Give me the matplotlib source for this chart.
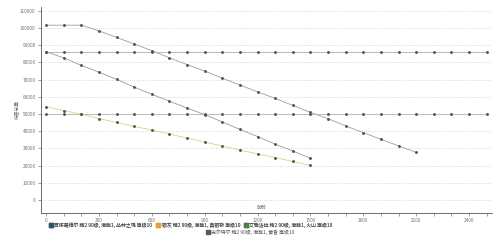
"""Damage vs. enemy defence, recreated with matplotlib"""
import matplotlib
matplotlib.use('Agg')
import matplotlib.pyplot as plt
from matplotlib.lines import Line2D

plt.rcParams['font.family'] = ['Noto Sans CJK SC', 'DejaVu Sans']

# enemy defence (x axis)
defence = list(range(0, 2600, 100))

# arts damage does not depend on defence
surtr = [86000] * 26
eyja = [50000] * 26

# physical damage series
gavial = [86300, 82700, 78300, 74400, 70200, 65700, 61500, 57500, 53500,
          49700, 45400, 41100, 36900, 32500, 28500, 24300]
silverash = [54200, 52000, 49900, 47400, 45100, 42800, 40700, 38400, 36000,
             33700, 31400, 29100, 26800, 24700, 22400, 20100]
unknown = [101700, 101700, 101700, 98400, 94600, 90800, 86900, 82700, 78800,
           75000, 70900, 66900, 62900, 59100, 55000, 51000, 47300, 43100,
           39200, 35300, 31500, 27700]

labels = [
    '百炼嘉维尔 精2 90级, 潜能1, 丛林之魂 等级10',
    '银灰 精2 90级, 潜能1, 真银斩 等级10',
    '艾雅法拉 精2 90级, 潜能1, 火山 等级10',
    '史尔特尔 精2 90级, 潜能1, 黄昏 等级10',
]
legend_colors = ['#2f5560', '#e0a040', '#4f7f45', '#5a5a5a']

FS = 3.4
LFS = 3.5
fig = plt.figure(figsize=(5.0, 2.42), dpi=100)
ax = fig.add_axes([0.0814, 0.121, 0.9026, 0.851])

marker_kw = dict(marker='o', markersize=1.1, markerfacecolor='#555555',
                 markeredgecolor='#555555', linewidth=0.6)
ax.plot(defence[:len(unknown)], unknown, color='#a898a6', **marker_kw)
ax.plot(defence, surtr, color='#b0b0b0', **marker_kw)
ax.plot(defence[:len(gavial)], gavial, color='#9499ad', **marker_kw)
ax.plot(defence, eyja, color='#b0b9ab', **marker_kw)
ax.plot(defence[:len(silverash)], silverash, color='#d3d682', **marker_kw)

ax.set_xlim(-30, 2530)
ax.set_ylim(-7400, 112400)

ax.set_yticks(range(0, 110001, 10000))
ax.set_yticklabels([str(v) for v in range(0, 110001, 10000)])
ax.set_xticks(defence)
ax.set_xticklabels([str(v) if v % 300 == 0 else '' for v in defence])
ax.set_xticks(range(0, 2501, 200), minor=True)

ax.tick_params(axis='both', which='major', labelsize=FS, colors='#777777',
               length=2.2, width=0.5, pad=1.5)
ax.tick_params(axis='x', which='minor', length=0)

ax.grid(axis='y', which='major', linestyle=':', color='#cccccc', linewidth=0.6)
ax.grid(axis='x', which='minor', linestyle=':', color='#cccccc', linewidth=0.6)
ax.set_axisbelow(True)

for side in ('top', 'right'):
    ax.spines[side].set_visible(False)
for side in ('left', 'bottom'):
    ax.spines[side].set_color('#555555')
    ax.spines[side].set_linewidth(0.6)

ax.set_ylabel('伤害总量', fontsize=FS, color='#777777')
ax.yaxis.set_label_coords(-0.048, 0.5)
ax.text(0.49, 0.014, '防御', transform=ax.transAxes, fontsize=FS,
        color='#777777', ha='center', va='bottom')

handles = [Line2D([], [], linestyle='none', marker='s', markersize=2.8,
                  color=c) for c in legend_colors]
leg_kw = dict(frameon=False, fontsize=LFS, handlelength=0.7,
              handletextpad=0.4, columnspacing=0.8, borderpad=0,
              borderaxespad=0, labelcolor='#555555')
row1 = fig.legend(handles[:3], labels[:3], ncol=3, loc='center left',
                  bbox_to_anchor=(0.098, 1 - 225 / 242), **leg_kw)
fig.add_artist(row1)
fig.legend(handles[3:], labels[3:], ncol=1, loc='center left',
           bbox_to_anchor=(0.412, 1 - 232 / 242), **leg_kw)

fig.savefig('out.png', dpi=100, facecolor='white')
